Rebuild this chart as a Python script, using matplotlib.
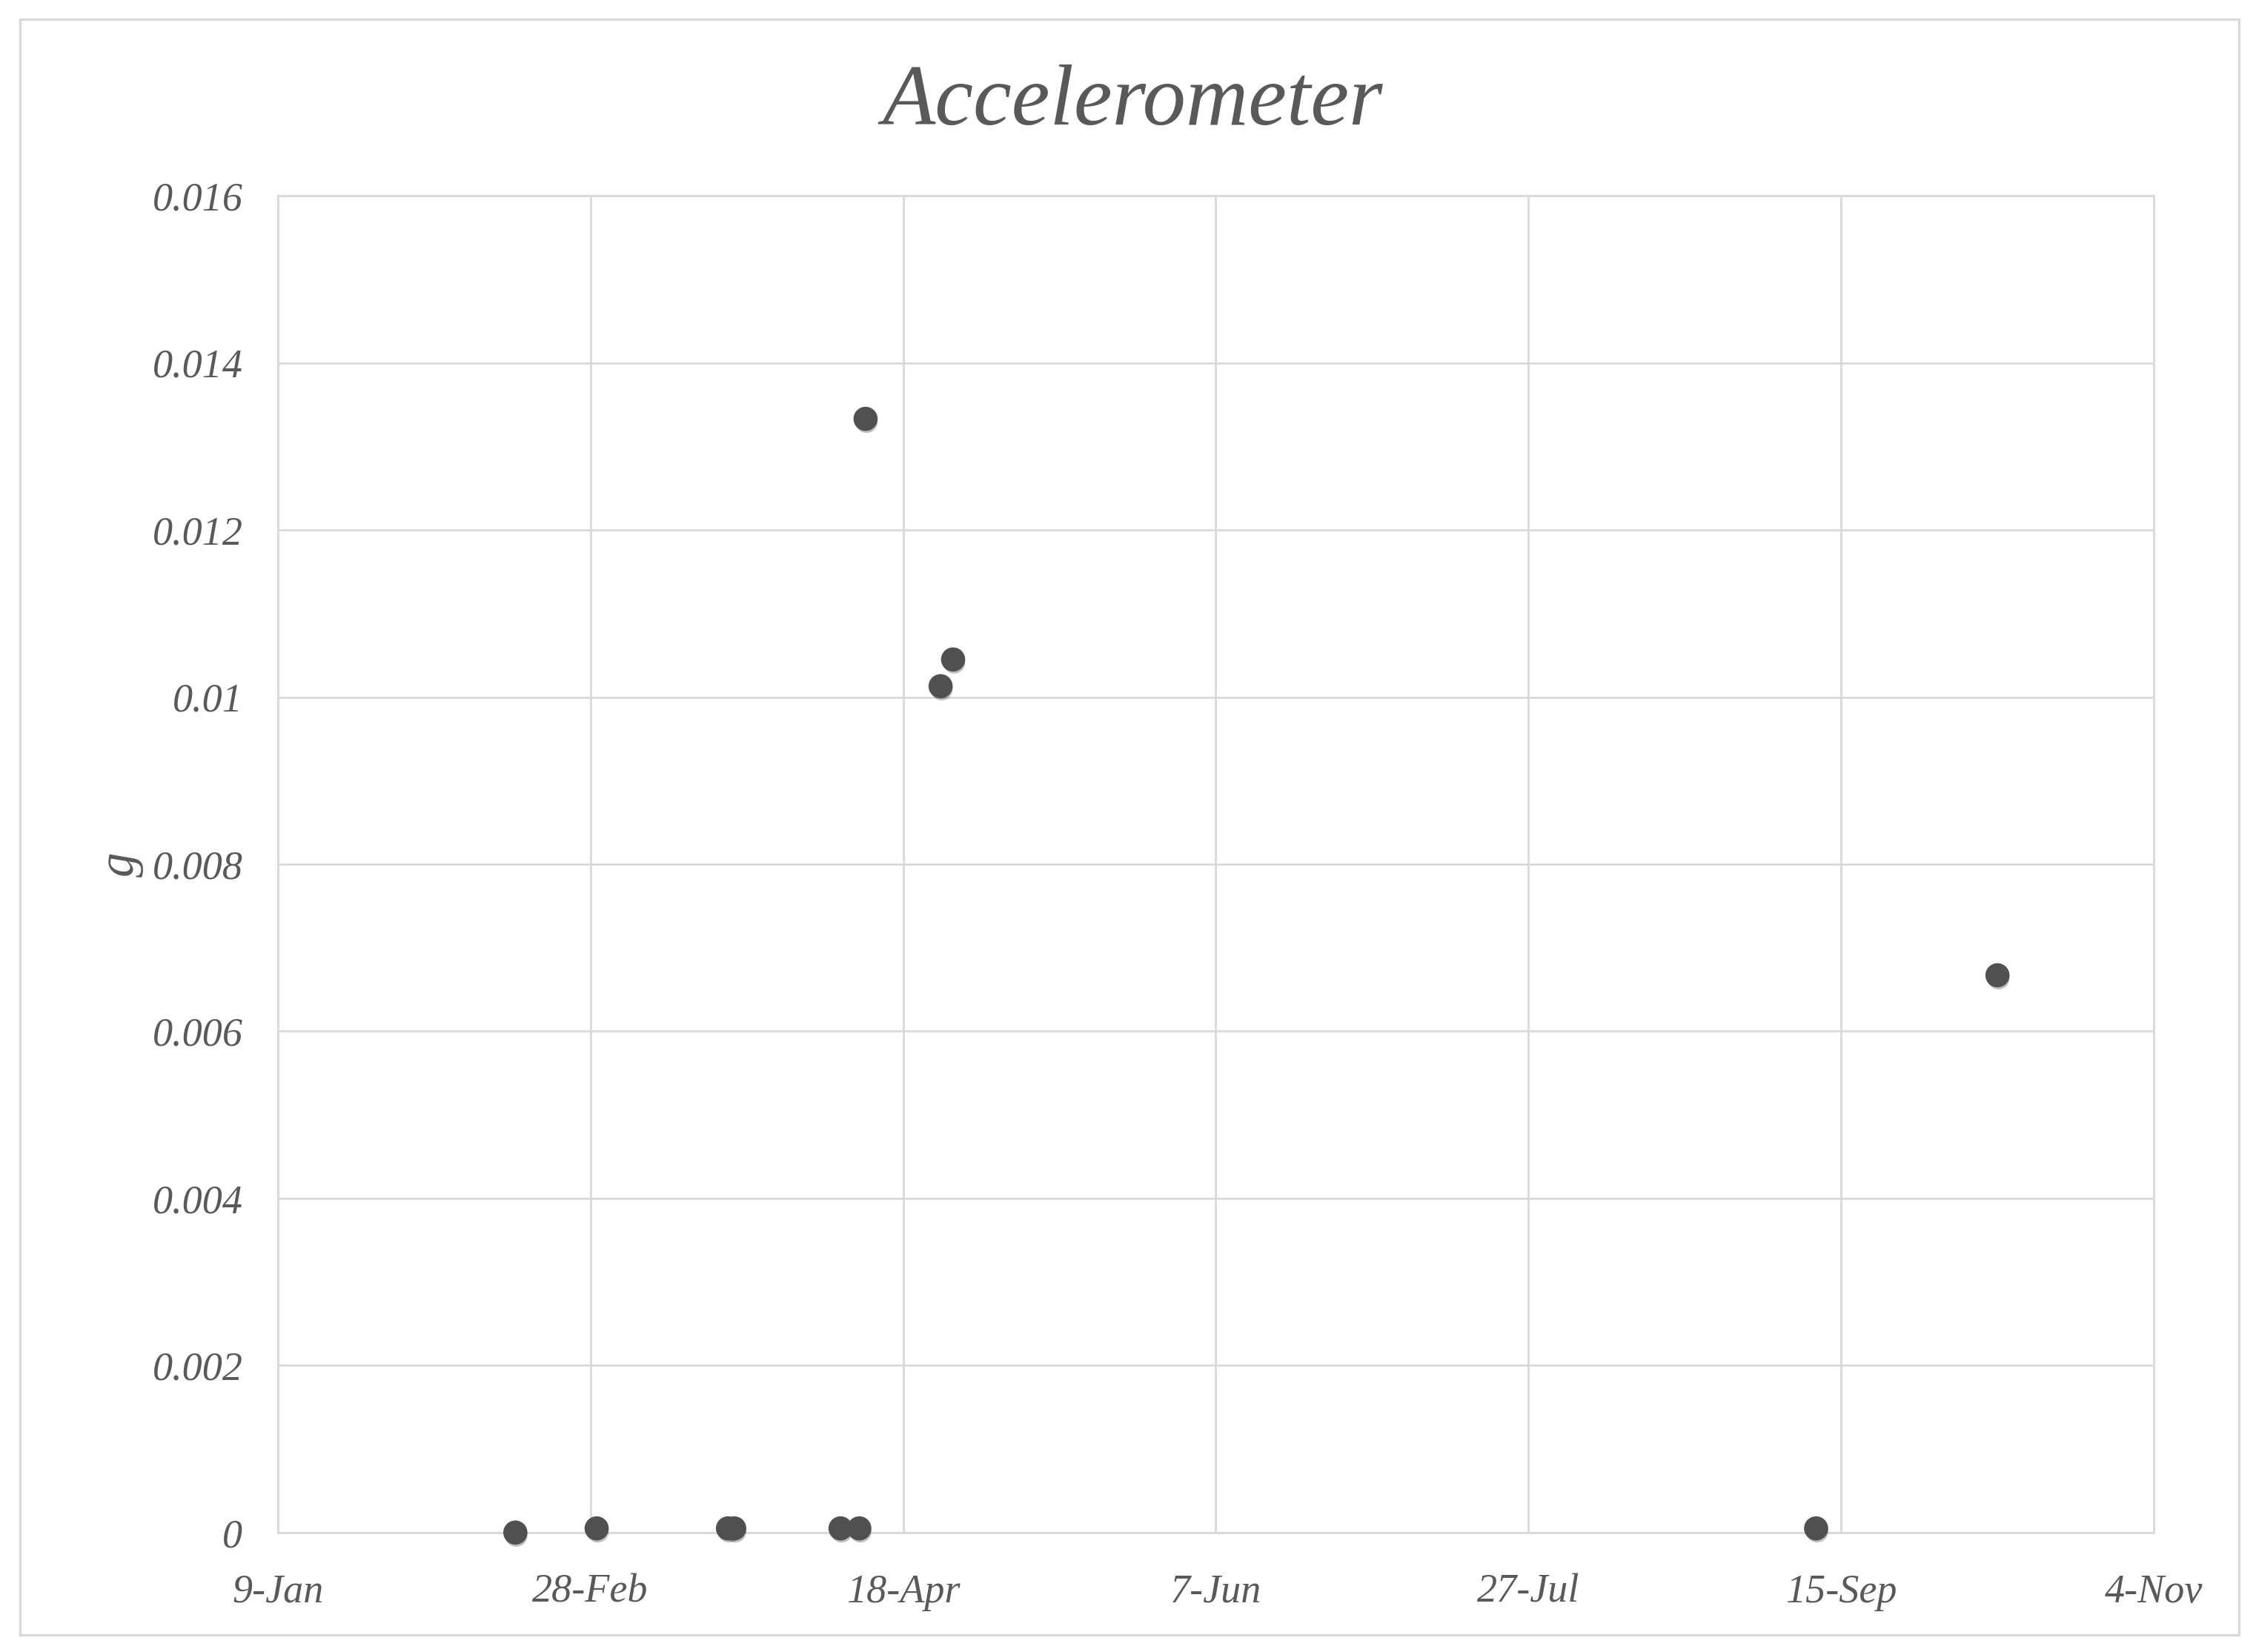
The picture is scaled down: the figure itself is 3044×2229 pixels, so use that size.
import datetime as dt
import matplotlib
matplotlib.use("Agg")
import matplotlib.pyplot as plt
import matplotlib.patheffects as pe
from matplotlib.patches import Rectangle

# readings (dates; leap year so ticks land on 28-Feb / 18-Apr)
dates = ["2020-02-16", "2020-02-29", "2020-03-21", "2020-03-22", "2020-04-08",
         "2020-04-11", "2020-04-12", "2020-04-24", "2020-04-26", "2020-09-11",
         "2020-10-10"]
g_values = [0.0, 0.00005, 0.00005, 0.00005, 0.00005,
            0.00005, 0.01333, 0.01013, 0.01045, 0.00005,
            0.00667]

x_start = dt.date(2020, 1, 9)
x_end = dt.date(2020, 11, 4)
tick_step_days = 50
y_ticks = [0, 0.002, 0.004, 0.006, 0.008, 0.01, 0.012, 0.014, 0.016]

text_col = "#595959"
grid_col = "#d9d9d9"
font = "Liberation Serif"

x = [dt.datetime.strptime(d, "%Y-%m-%d").date() for d in dates]

fig = plt.figure(figsize=(15.22, 11.145), dpi=200)
# outer chart border
fig.patches.append(Rectangle((0.0089, 0.0105), 0.9834, 0.978, transform=fig.transFigure,
                             fill=False, edgecolor=grid_col, linewidth=1.2))

ax = fig.add_axes([0.1231, 0.0723, 0.8316, 0.8092])

sc = ax.scatter(x, g_values, s=115, color="#505050", zorder=3, clip_on=False)
sc.set_path_effects([pe.SimplePatchShadow(offset=(0.5, -1.5), shadow_rgbFace="#000000", alpha=0.25),
                     pe.Normal()])

ax.set_xlim(x_start, x_end)
ax.set_ylim(0, 0.016)
xt = [x_start + dt.timedelta(days=i * tick_step_days) for i in range(7)]
ax.set_xticks(xt)
ax.set_xticklabels([f"{d.day}-{d.strftime('%b')}" for d in xt])
ax.set_yticks(y_ticks)
ax.set_yticklabels([f"{v:g}" for v in y_ticks])

ax.grid(True, color=grid_col, linewidth=1.0)
ax.set_axisbelow(True)
for s in ax.spines.values():
    s.set_color(grid_col)
    s.set_linewidth(1.0)
ax.tick_params(length=0, labelsize=19.5, labelcolor=text_col)
ax.tick_params(axis="x", pad=20)
ax.tick_params(axis="y", pad=17)
for lbl in ax.get_xticklabels() + ax.get_yticklabels():
    lbl.set_fontfamily(font)
    lbl.set_fontstyle("italic")

ax.set_ylabel("g", fontsize=24, color=text_col, family=font, style="italic", labelpad=4)
fig.text(0.502, 0.937, "Accelerometer", ha="center", va="center", fontsize=42,
         color=text_col, family=font, style="italic")

fig.savefig("out.png", dpi=200, facecolor="white")
